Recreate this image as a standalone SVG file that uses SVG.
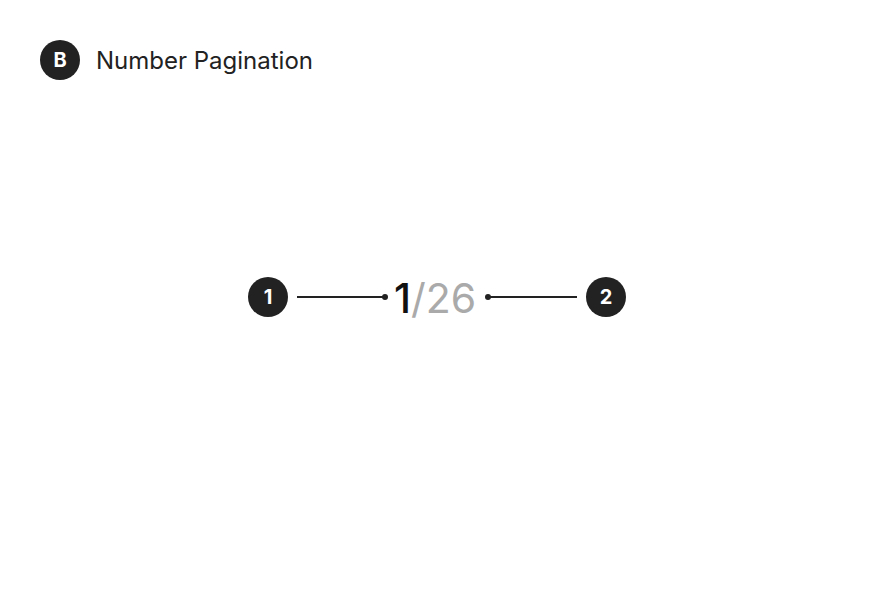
<svg xmlns="http://www.w3.org/2000/svg" width="876" height="600" viewBox="0 0 876 600">
<style>
.badge{fill:#222222}
.btxt{font-family:Inter,"Liberation Sans",sans-serif;font-weight:700;font-size:20px;fill:#ffffff;text-anchor:middle}
.line{stroke:#222222;stroke-width:2;fill:none}
.dot{fill:#222222}
</style>
<rect width="876" height="600" fill="#ffffff"/>
<g id="title">
<circle class="badge" cx="60" cy="60" r="20"/>
<text class="btxt" x="60" y="67">B</text>
<text x="96" y="69" font-family="Inter,'Liberation Sans',sans-serif" font-size="24" fill="#222222">Number Pagination</text>
</g>
<g id="pagination">
<text x="394" y="313" font-family="Inter,'Liberation Sans',sans-serif" font-size="41"><tspan fill="#111111" font-weight="500">1</tspan><tspan fill="#aaaaaa">/26</tspan></text>
</g>
<g id="callout1">
<circle class="badge" cx="268" cy="297" r="20"/>
<text class="btxt" x="268" y="304">1</text>
</g>
<g id="callout2">
<circle class="badge" cx="606" cy="297" r="20"/>
<text class="btxt" x="606" y="304">2</text>
</g>
<g id="connectors">
<line class="line" x1="297" y1="297" x2="385" y2="297"/>
<circle class="dot" cx="385" cy="297" r="3"/>
<line class="line" x1="488" y1="297" x2="577" y2="297"/>
<circle class="dot" cx="488" cy="297" r="3"/>
</g>
</svg>
